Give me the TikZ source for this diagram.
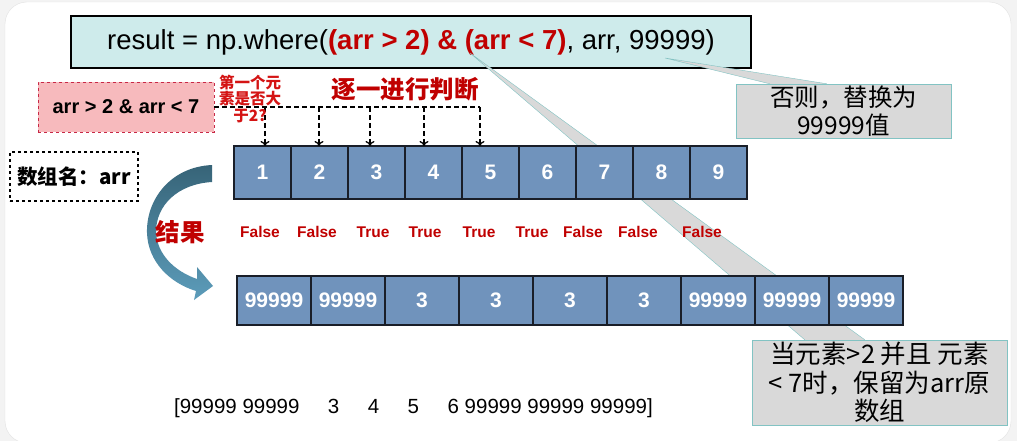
\documentclass[tikz,border=0pt]{standalone}
\usepackage{fontspec}
\setmainfont{Liberation Sans}
\newfontfamily\cjk{Noto Sans CJK SC}
\definecolor{codecyan}{RGB}{206,235,235}
\definecolor{codered}{RGB}{192,0,0}
\definecolor{firstred}{RGB}{212,20,20}
\definecolor{condpink}{RGB}{247,186,189}
\definecolor{condborder}{RGB}{200,40,70}
\definecolor{cellblue}{RGB}{112,147,188}
\definecolor{cellborder}{RGB}{25,30,40}
\definecolor{notegray}{RGB}{217,217,217}
\definecolor{noteborder}{RGB}{130,195,195}
\definecolor{arrowdark}{RGB}{55,100,120}
\definecolor{arrowlight}{RGB}{92,156,186}
\definecolor{pagegray}{RGB}{243,243,243}
\definecolor{framegray}{RGB}{226,226,226}
\usetikzlibrary{positioning,arrows.meta,calc}
\tikzstyle{codeBox} = [
 rectangle,
 draw=black,
 line width=1.5pt,
 fill=codecyan,
 minimum width=680pt,
 minimum height=52pt,
 inner sep=0pt,
 font=\fontsize{27.5}{32}\selectfont
]
\tikzstyle{condBox} = [
 rectangle,
 draw=condborder,
 thick,
 dashed,
 fill=condpink,
 minimum width=176pt,
 minimum height=50pt,
 outer sep=0pt,
 font=\fontsize{20}{23}\selectfont\bfseries
]
\tikzstyle{nameBox} = [
 rectangle,
 draw=black,
 line width=1.2pt,
 dashed,
 minimum width=128pt,
 minimum height=49pt,
 font=\fontsize{20.5}{24}\selectfont\cjk\bfseries
]
\tikzstyle{cell} = [
 rectangle,
 draw=cellborder,
 line width=1.3pt,
 fill=cellblue,
 text=white,
 minimum width=57pt,
 minimum height=53pt,
 inner sep=0pt,
 outer sep=0pt,
 font=\fontsize{21}{24}\selectfont\bfseries
]
\tikzstyle{outCell} = [
 cell,
 minimum width=74pt,
 minimum height=49pt,
 font=\fontsize{21}{24}\selectfont\bfseries
]
\tikzstyle{flag} = [
 text=codered,
 font=\fontsize{15.5}{18}\selectfont\bfseries
]
\tikzstyle{note} = [
 rectangle,
 draw=noteborder,
 thin,
 fill=notegray,
 align=center,
 inner sep=0pt,
 font=\fontsize{24.5}{28.5}\selectfont\cjk
]
\tikzstyle{wedge} = [
 fill=notegray,
 draw=noteborder,
 thin
]
\tikzstyle{judge} = [
 line width=1.3pt,
 dash pattern=on 5pt off 3pt
]

\begin{document}
\begin{tikzpicture}[x=1pt, y=-1pt]
  \useasboundingbox (0,0) rectangle (1017,441);
  \fill[pagegray] (0,0) rectangle (1017,441);
  \draw[framegray, fill=white, rounded corners=22pt] (5,2) rectangle (1011,443);

  \node [codeBox] (code) at (411,42)
    {result = np.where(\textcolor{codered}{\bfseries (arr > 2) \& (arr < 7)}, arr, 99999)};
  \coordinate (tipOther) at (665,58);
  \coordinate (tipKeep) at (470,53);

  \node [note, minimum width=215pt, minimum height=54pt] (other) at (843.5,111)
    {否则，替换为\\99999值};
  \node [note, font=\fontsize{25.5}{28.5}\selectfont\cjk, minimum width=255pt, minimum height=85pt] (keep) at (879.5,382.5)
    {当元素>2 并且 元素\\< 7时，保留为arr原\\数组};
  \filldraw [wedge] ($(other.north west)+(34,0)$) -- (tipOther) -- ($(other.north west)+(91,0)$);
  \filldraw [wedge] ($(keep.north west)+(53,0)$) -- (tipKeep) -- ($(keep.north west)+(113,0)$);

  \node [cell] (c1) at (262.5,172.5) {1};
  \foreach \i [remember=\i as \j (initially 1)] in {2,...,9}
    \node [cell, right=0pt of c\j] (c\i) {\i};

  \node [outCell] (o1) at (274,300.5) {99999};
  \foreach \v [count=\i from 2, remember=\i as \j (initially 1)] in {99999,3,3,3,3,99999,99999,99999}
    \node [outCell, right=0pt of o\j] (o\i) {\v};

  \node [condBox] (cond) at (126,107) {arr > 2 \& arr < 7};
  \foreach \x [count=\i] in {265,319,370,424,480}
    \coordinate (j\i) at (\x,107);
  \draw [judge] (cond.east) -- (j5);
  \foreach \i in {1,...,5}
    \draw [judge, -{To[length=5pt,width=9pt]}] (j\i) -- (j\i |- c\i.north);

  \node [text=firstred, align=center, font=\fontsize{15.5}{16.5}\selectfont\cjk\bfseries] (first) at (250,99)
    {第一个元\\素是否大\\于2?};
  \node [text=codered, font=\fontsize{24.5}{28}\selectfont\cjk\bfseries] (judgeTitle) at (405,89) {逐一进行判断};

  \node [nameBox] (name) at (74,176.5) {数组名：arr};

  \shade [top color=arrowdark, bottom color=arrowlight]
    (212,165) .. controls (170,167) and (146,200) .. (147,233)
    .. controls (148,262) and (170,283) .. (196,291)
    -- (194,300) -- (213,286) -- (197,267) -- (197,279)
    .. controls (174,271) and (157,254) .. (156,232)
    .. controls (156,205) and (178,184) .. (212,182) -- cycle;
  \node [text=codered, font=\fontsize{24.5}{28}\selectfont\cjk\bfseries] (result) at (180,232) {结果};

  \foreach \x/\v [count=\i] in {260/False,317/False,373/True,425/True,479/True,532/True,583/False,638/False,702/False}
    \node [flag] (f\i) at (\x,232) {\v};

  \node [font=\fontsize{20.5}{24}\selectfont] (printed) at (413.5,408)
    {[99999 99999\ \ \ \ \ 3\ \ \ \ \ 4\ \ \ \ \ 5\ \ \ \ \ 6 99999 99999 99999]};
\end{tikzpicture}
\end{document}
